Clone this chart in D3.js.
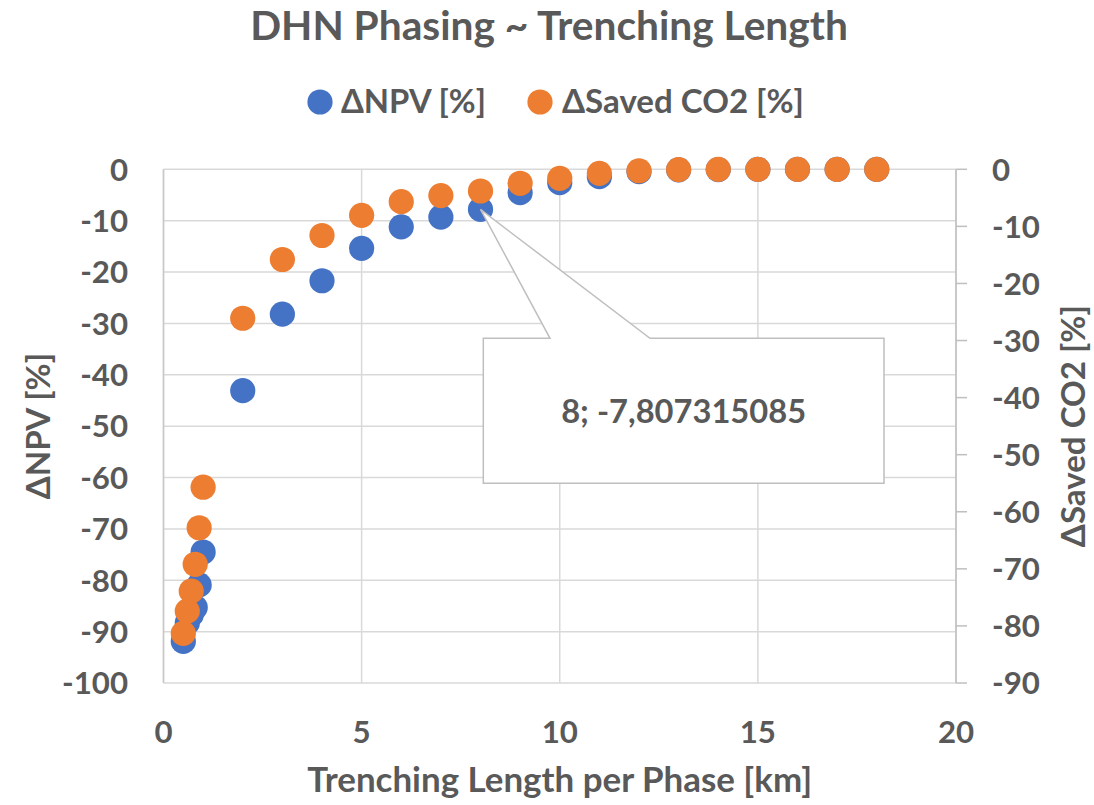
<!DOCTYPE html>
<html>
<head>
<meta charset="utf-8">
<script src="https://cdn.jsdelivr.net/npm/d3@7"></script>
<style>
  body { margin: 0; background: #fff; }
  text { font-family: Lato, "Open Sans", sans-serif; font-weight: 700; fill: #595959; }
</style>
</head>
<body>
<div id="chart"></div>
<script>
var width = 1094, height = 805;

// trenching length per phase [km]
var lengths = [0.5, 0.6, 0.7, 0.8, 0.9, 1, 2, 3, 4, 5, 6, 7, 8, 9, 10, 11, 12, 13, 14, 15, 16, 17, 18];
// ΔNPV [%] (left axis)
var npv = [-91.9, -88.3, -86.7, -85.3, -80.9, -74.5, -43.1, -28.2, -21.7, -15.4, -11.2, -9.3, -7.807315085,
           -4.55, -2.6, -1.43, -0.46, -0.1, -0.05, 0, 0, 0, 0];
// ΔSaved CO2 [%] (right axis)
var co2 = [-81.3, -77.4, -73.9, -69.2, -62.8, -55.7, -26.1, -15.8, -11.6, -8.06, -5.67, -4.6, -3.8,
           -2.45, -1.58, -0.7, -0.25, -0.05, 0, 0, 0, 0, 0];

var xTicks = [0, 5, 10, 15, 20];
var leftTicks = d3.range(0, -101, -10);
var rightTicks = d3.range(0, -91, -10);

var seriesNames = ["ΔNPV [%]", "ΔSaved CO2 [%]"];
var colors = ["#4472C4", "#ED7D31"];

var callout = { x: 8, y: -7.807315085, label: "8; -7,807315085" };

var plot = { left: 163.5, right: 956, top: 169.3, bottom: 683 };

var svg = d3.select("#chart").append("svg")
    .attr("width", width)
    .attr("height", height);

var x = d3.scaleLinear().domain([0, 20]).range([plot.left, plot.right]);
var yL = d3.scaleLinear().domain([-100, 0]).range([plot.bottom, plot.top]);
var yR = d3.scaleLinear().domain([-90, 0]).range([plot.bottom, plot.top]);

// scale a text so it spans the given width
function fit(sel, w) {
  var fs = parseFloat(sel.attr("font-size"));
  var len = sel.node().getComputedTextLength();
  sel.attr("font-size", fs * w / len);
  return fs * w / len;
}

// measure tick font size from the widest label
var probe = svg.append("text").attr("font-size", 30).text("-100");
var tickSize = fit(probe, 66);
probe.remove();

// gridlines
svg.append("g").selectAll("line")
    .data(leftTicks)
    .enter().append("line")
    .attr("x1", plot.left).attr("x2", plot.right)
    .attr("y1", d => yL(d)).attr("y2", d => yL(d))
    .style("stroke", "#D9D9D9").style("stroke-width", 1.5);

svg.append("g").selectAll("line")
    .data(xTicks)
    .enter().append("line")
    .attr("x1", d => x(d)).attr("x2", d => x(d))
    .attr("y1", plot.top).attr("y2", plot.bottom)
    .style("stroke", "#D9D9D9").style("stroke-width", 1.5);

// axis lines
svg.append("line")
    .attr("x1", plot.left).attr("x2", plot.left)
    .attr("y1", plot.top).attr("y2", plot.bottom)
    .style("stroke", "#C8C8C8").style("stroke-width", 1.5);

svg.append("line")
    .attr("x1", plot.right).attr("x2", plot.right)
    .attr("y1", plot.top).attr("y2", plot.bottom)
    .style("stroke", "#BFBFBF").style("stroke-width", 1.5);

svg.append("g").selectAll("line")
    .data(rightTicks)
    .enter().append("line")
    .attr("x1", plot.right).attr("x2", plot.right + 11)
    .attr("y1", d => yR(d)).attr("y2", d => yR(d))
    .style("stroke", "#BFBFBF").style("stroke-width", 1.5);

// tick labels
svg.append("g").selectAll("text")
    .data(leftTicks)
    .enter().append("text")
    .attr("x", 128)
    .attr("y", d => yL(d))
    .attr("dy", "0.36em")
    .attr("font-size", tickSize)
    .style("text-anchor", "end")
    .text(d => d);

svg.append("g").selectAll("text")
    .data(rightTicks)
    .enter().append("text")
    .attr("x", 992)
    .attr("y", d => yR(d))
    .attr("dy", "0.36em")
    .attr("font-size", tickSize)
    .style("text-anchor", "start")
    .text(d => d);

svg.append("g").selectAll("text")
    .data(xTicks)
    .enter().append("text")
    .attr("x", d => x(d))
    .attr("y", 743)
    .attr("font-size", tickSize)
    .style("text-anchor", "middle")
    .text(d => d);

// points, blue first so orange lies on top
var series = [npv, co2];
var scales = [yL, yR];
series.forEach(function(vals, s) {
  svg.append("g").selectAll("circle")
      .data(vals)
      .enter().append("circle")
      .attr("cx", (d, i) => x(lengths[i]))
      .attr("cy", d => scales[s](d))
      .attr("r", 12.6)
      .attr("fill", colors[s]);
});

// data label callout
var tipX = x(callout.x), tipY = yL(callout.y);
var box = { x0: 483.3, x1: 884, y0: 338.3, y1: 483.3, b0: 550, b1: 650 };
svg.append("path")
    .attr("d", "M" + box.x0 + "," + box.y0 + "L" + box.b0 + "," + box.y0 +
               "L" + tipX + "," + tipY + "L" + box.b1 + "," + box.y0 +
               "L" + box.x1 + "," + box.y0 + "L" + box.x1 + "," + box.y1 +
               "L" + box.x0 + "," + box.y1 + "Z")
    .attr("fill", "white")
    .style("stroke", "#BFBFBF").style("stroke-width", 1.5);

var cl = svg.append("text")
    .attr("x", (box.x0 + box.x1) / 2)
    .attr("y", 423)
    .attr("font-size", 30)
    .style("text-anchor", "middle")
    .text(callout.label);
fit(cl, 245);

// title
var title = svg.append("text")
    .attr("x", 549)
    .attr("y", 39.5)
    .attr("font-size", 34)
    .style("text-anchor", "middle")
    .text("DHN Phasing ~ Trenching Length");
fit(title, 598);

// legend
var legendX = [{ m: 320, t: 341, w: 145 }, { m: 540, t: 562, w: 242 }];
var legendSize;
seriesNames.forEach(function(name, i) {
  svg.append("circle")
      .attr("cx", legendX[i].m).attr("cy", 102)
      .attr("r", 12.6)
      .attr("fill", colors[i]);
  var t = svg.append("text")
      .attr("x", legendX[i].t)
      .attr("y", 113)
      .attr("font-size", 30)
      .text(name);
  legendSize = fit(t, legendX[i].w);
});

// axis titles
var xt = svg.append("text")
    .attr("x", (plot.left + plot.right) / 2)
    .attr("y", 792)
    .attr("font-size", 30)
    .style("text-anchor", "middle")
    .text("Trenching Length per Phase [km]");
fit(xt, 505);

svg.append("text")
    .attr("transform", "translate(50," + ((plot.top + plot.bottom) / 2) + ") rotate(-90)")
    .attr("font-size", legendSize)
    .style("text-anchor", "middle")
    .text(seriesNames[0]);

svg.append("text")
    .attr("transform", "translate(1085," + ((plot.top + plot.bottom) / 2) + ") rotate(-90)")
    .attr("font-size", legendSize)
    .style("text-anchor", "middle")
    .text(seriesNames[1]);
</script>
</body>
</html>
